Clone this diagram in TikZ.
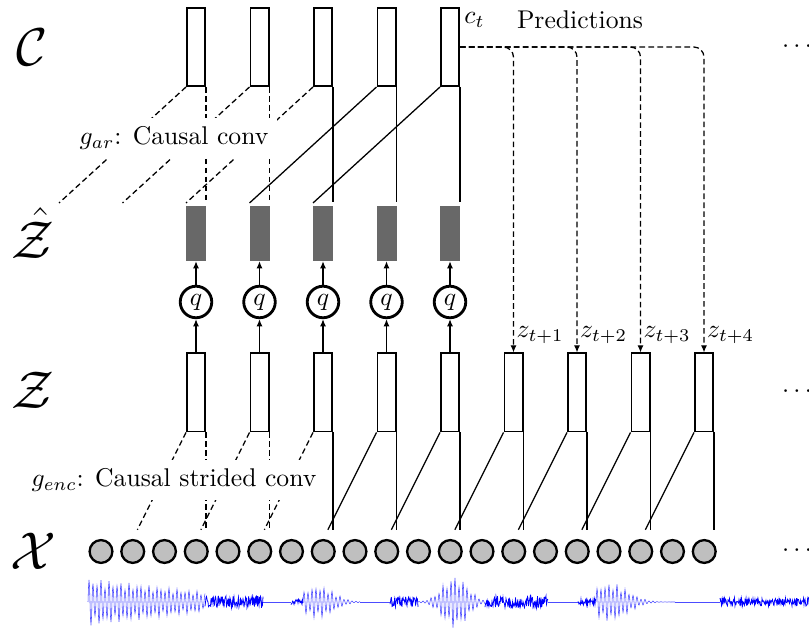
\documentclass[tikz,border=0pt]{standalone}
\usetikzlibrary{arrows.meta, positioning}

\definecolor{zhatgray}{RGB}{104,104,104}

\begin{document}
\begin{tikzpicture}[x=0.39pt, y=0.39pt, line width=0.5pt,
  >={Latex[length=2.8pt, width=2.4pt]},
  dashes/.style={dash pattern=on 2.2pt off 1.3pt},
  box/.style={draw, line width=0.6pt, minimum width=7.2pt, minimum height=30.6pt, inner sep=0pt},
  zhatbox/.style={fill=zhatgray, minimum width=7.8pt, minimum height=21.3pt, inner sep=0pt},
  quant/.style={circle, draw, line width=1.1pt, minimum size=12.3pt, inner sep=0pt},
  sample/.style={circle, draw, line width=0.9pt, fill=black!25, minimum size=8.9pt, inner sep=0pt},
  rowlabel/.style={font=\fontsize{22}{26}\selectfont},
  wave/.style={blue!70, line width=0.22pt},
  noise/.style={blue, line width=0.3pt}]
\useasboundingbox (0,0) rectangle (809,629);
\pgfmathsetseed{7}

% row labels
\node[rowlabel] (lblC) at (32,582) {$\mathcal{C}$};
\node[rowlabel] (lblZh) at (33,396) {$\hat{\mathcal{Z}}$};
\node[rowlabel] (lblZ) at (33,239) {$\mathcal{Z}$};
\node[rowlabel] (lblX) at (33,78) {$\mathcal{X}$};

% context, quantized and latent columns
\foreach \i in {0,...,4} {
  \node[box] (c\i) at ({196+63.5*\i},582) {};
  \node[zhatbox] (zh\i) at ({196+63.5*\i},395.7) {};
  \node[quant] (q\i) at ({196+63.5*\i},327) {$q$};
}
\foreach \i in {0,...,8}
  \node[box] (z\i) at ({196+63.5*\i},236.5) {};
\foreach \k in {0,...,19}
  \node[sample] (x\k) at ({101+31.75*\k},77.5) {};

% quantization
\foreach \i in {0,...,4} {
  \draw[->] (z\i) -- (q\i);
  \draw[->] (q\i) -- (zh\i);
}

% causal conv
\foreach \i/\ds/\vs in {0/dashes/dashes, 1/dashes/dashes, 2/dashes/solid, 3/solid/solid, 4/solid/solid} {
  \draw[\ds] (c\i.south west) -- ++(-127,-116);
  \draw[\vs, shorten >=1.2pt] (c\i.south east) -- (c\i.south east |- zh\i.north);
}

% causal strided conv
\foreach \i/\ds/\vs [evaluate=\i as \k using int(2*\i+1)] in {0/dashes/dashes, 1/dashes/dashes, 2/dashes/solid,
    3/solid/solid, 4/solid/solid, 5/solid/solid, 6/solid/solid, 7/solid/solid, 8/solid/solid} {
  \draw[\ds, shorten >=4pt] (z\i.south west) -- (x\k.north);
  \draw[\vs] (z\i.south east) -- ++(0,-97.5);
}

\node[fill=white] (gar) at (174,491) {$g_{ar}$: Causal conv};
\node[fill=white] (genc) at (174,149) {$g_{enc}$: Causal strided conv};

% predictions
\node[anchor=north west, inner sep=1.5pt, yshift=-0.5pt] (ct) at (c4.north east) {$c_t$};
\node (pred) at (580,609) {Predictions};
\foreach \j/\t in {5/1, 6/2, 7/3, 8/4}
  \draw[dashes, ->, rounded corners=4pt] (c4.east) -| (z\j.north)
    node[anchor=south west, inner sep=1pt, yshift=2.2pt] {$z_{t+\t}$};

% more steps
\node (moreC) at (797,582) {$\cdots$};
\node (moreZ) at (797,237) {$\cdots$};
\node (moreX) at (797,78) {$\cdots$};

% waveform
\draw[wave] plot[domain=88:205, samples=235] (\x, {27+(24-14*(\x-88)/117)*(0.8+0.2*sin(37*(\x-88)))*sin(90*(\x-88))});
\draw[noise] plot[domain=205:263, samples=117] (\x, {27+6*(2*rnd-1)});
\draw[wave] (263,27) -- (291,27);
\draw[noise] plot[domain=291:303, samples=25] (\x, {27+3*(2*rnd-1)});
\draw[wave] plot[domain=303:360, samples=115] (\x, {27+16*exp(-((\x-318)/22)^2)*(0.8+0.2*sin(41*(\x-303)))*sin(90*(\x-303))});
\draw[wave] (360,27) -- (390,27);
\draw[noise] plot[domain=390:418, samples=57] (\x, {27+5*(2*rnd-1)});
\draw[wave] plot[domain=418:485, samples=135] (\x, {27+26*exp(-((\x-455)/18)^2)*(0.8+0.2*sin(33*(\x-418)))*sin(90*(\x-418))});
\draw[noise] plot[domain=485:548, samples=127] (\x, {27+6*(2*rnd-1)});
\draw[wave] (548,27) -- (578,27);
\draw[noise] plot[domain=578:596, samples=37] (\x, {27+3*(2*rnd-1)});
\draw[wave] plot[domain=596:675, samples=159] (\x, {27+19*exp(-((\x-610)/25)^2)*(0.8+0.2*sin(39*(\x-596)))*sin(90*(\x-596))});
\draw[wave] (675,27) -- (720,27);
\draw[noise] plot[domain=720:809, samples=179] (\x, {27+4*(2*rnd-1)});
\end{tikzpicture}
\end{document}
